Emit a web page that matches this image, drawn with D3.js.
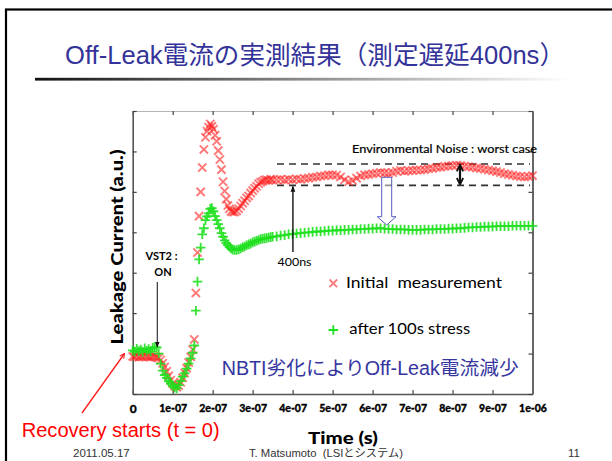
<!DOCTYPE html>
<html><head><meta charset="utf-8">
<script src="https://cdn.jsdelivr.net/npm/d3@7"></script>
<style>html,body{margin:0;padding:0;background:#fff;} svg{display:block}</style>
</head><body>
<svg id="c" width="612" height="461"></svg>
<script>
// ---- data (time in ns, leakage current in arbitrary units) ----
const timeNs = [
  0,5,10,15,20,25,30,35,40,45,50,55,60,65,70,75,80,85,90,95,100,105,110,115,120,125,130,135,140,145,150,
  154,158,162,166,170,174,178,182,186,190,194,198,202,206,210,214,218,222,226,230,234,238,242,246,250,
  255,260,265,270,275,280,285,290,295,300,305,310,315,320,325,330,335,340,345,350,
  360,370,380,390,400,410,420,430,440,450,460,470,480,490,500,510,520,530,540,550,
  560,570,580,590,600,610,620,630,640,650,660,670,680,690,700,710,720,730,740,750,
  760,770,780,790,800,810,820,830,840,850,860,870,880,890,900,910,920,930,940,950,
  960,970,980,990,1000
];
const initialMeasurement = [
  0.93,0.92,0.94,0.91,0.93,0.92,0.94,0.93,0.92,0.91,0.93,0.92,0.91,0.89,0.84,0.76,0.67,0.56,0.45,0.34,0.26,0.20,0.17,0.21,0.29,0.40,0.52,0.64,0.78,0.92,1.10,
  1.35,2.50,3.50,4.40,5.00,5.60,6.05,6.35,6.50,6.60,6.68,6.62,6.55,6.40,6.25,6.02,5.80,5.55,5.25,5.02,4.82,4.66,4.58,4.52,4.50,
  4.50,4.53,4.58,4.65,4.72,4.78,4.85,4.90,4.97,5.03,5.09,5.14,5.20,5.24,5.26,5.29,5.30,5.28,5.31,5.29,
  5.30,5.31,5.29,5.31,5.30,5.32,5.31,5.33,5.34,5.36,
  5.37,5.39,5.40,5.42,5.42,5.41,5.37,5.30,5.25,5.28,
  5.34,5.39,5.42,5.43,5.45,5.46,5.48,5.47,5.46,5.48,
  5.51,5.53,5.51,5.52,5.53,5.54,5.54,5.55,5.57,5.58,
  5.60,5.61,5.63,5.64,5.65,5.66,5.65,5.64,5.62,5.61,
  5.59,5.58,5.56,5.54,5.52,5.50,5.48,5.45,5.43,5.41,
  5.39,5.38,5.37,5.38,5.40
];
const after100sStress = [
  1.08,1.05,1.12,1.06,1.10,1.04,1.13,1.07,1.11,1.05,1.14,1.16,1.15,1.00,0.75,0.58,0.47,0.40,0.32,0.26,0.20,0.16,0.14,0.22,0.32,0.43,0.51,0.63,0.75,0.88,1.02,
  1.20,2.06,2.78,3.33,3.62,3.95,4.10,4.30,4.39,4.47,4.58,4.60,4.52,4.40,4.30,4.20,4.10,3.98,3.89,3.80,3.73,3.68,3.64,3.60,3.57,
  3.56,3.56,3.58,3.60,3.63,3.65,3.68,3.70,3.72,3.75,3.77,3.79,3.81,3.83,3.84,3.85,3.86,3.87,3.88,3.89,
  3.90,3.92,3.93,3.95,3.96,3.97,3.98,3.99,4.00,4.01,
  4.02,4.02,4.03,4.04,4.04,4.05,4.05,4.06,4.06,4.07,
  4.07,4.08,4.08,4.09,4.09,4.10,4.10,4.09,4.08,4.08,
  4.07,4.07,4.07,4.06,4.06,4.06,4.06,4.07,4.07,4.07,
  4.08,4.08,4.08,4.09,4.09,4.10,4.10,4.11,4.12,4.12,
  4.13,4.13,4.14,4.14,4.14,4.15,4.15,4.15,4.15,4.16,
  4.16,4.16,4.16,4.16,4.16
];
const xTickValues = [0,1e-7,2e-7,3e-7,4e-7,5e-7,6e-7,7e-7,8e-7,9e-7,1e-6];
const xTickLabels = ["0","1e-07","2e-07","3e-07","4e-07","5e-07","6e-07","7e-07","8e-07","9e-07","1e-06"];
const yTickValues = [0,1,2,3,4,5,6,7];
const seriesNames = ["Initial  measurement","after 100s stress"];
const noiseBand = [5.16, 5.69];   // environmental noise band (a.u.)
const delayMark = 4e-7;           // 400 ns measurement delay

// ---- drawing ----
const svg = d3.select("#c");
const x = d3.scaleLinear().domain([0, 1e-6]).range([132.7, 532.5]);
const y = d3.scaleLinear().domain([0, 7]).range([394, 111]);
const CJK = "'Liberation Sans', Arial, 'Noto Sans CJK JP', sans-serif";
const CAL = "Lato, 'Open Sans', sans-serif";

const defs = svg.append("defs");
const grad = defs.append("linearGradient").attr("id", "ul").attr("x1", "0").attr("x2", "1");
grad.append("stop").attr("offset", "0").attr("stop-color", "#111");
grad.append("stop").attr("offset", "0.5").attr("stop-color", "#8a8a8a");
grad.append("stop").attr("offset", "1").attr("stop-color", "#fff");
function marker(id, color, open) {
  const m = defs.append("marker").attr("id", id).attr("viewBox", "0 0 10 10")
    .attr("refX", 9).attr("refY", 5).attr("markerWidth", 6).attr("markerHeight", 6)
    .attr("markerUnits", "userSpaceOnUse").attr("orient", "auto-start-reverse");
  if (open) m.append("path").attr("d", "M1,1 L9,5 L1,9").attr("fill", "none").attr("stroke", color).attr("stroke-width", 1.6);
  else m.append("path").attr("d", "M0,1 L10,5 L0,9 z").attr("fill", color);
}
marker("aBlack", "#111", false);
marker("aRed", "#ff1a1a", true);
const mBig = defs.append("marker").attr("id", "aBig").attr("viewBox", "0 0 10 10")
  .attr("refX", 9).attr("refY", 5).attr("markerWidth", 8).attr("markerHeight", 8)
  .attr("markerUnits", "userSpaceOnUse").attr("orient", "auto-start-reverse");
mBig.append("path").attr("d", "M1,1 L9,5 L1,9").attr("fill", "none").attr("stroke", "#111").attr("stroke-width", 2.2);

// slide frame
svg.append("rect").attr("x", 6).attr("y", 9.5).attr("width", 700).attr("height", 600)
  .attr("fill", "none").attr("stroke", "#000").attr("stroke-width", 2.2);

// title
svg.append("text").attr("x", 65).attr("y", 63.5)
  .attr("font-family", CJK).attr("font-size", 25.5).attr("fill", "#333399")
  .attr("textLength", 500).attr("lengthAdjust", "spacingAndGlyphs")
  .text("Off-Leak電流の実測結果（測定遅延400ns）");
svg.append("rect").attr("x", 35).attr("y", 77.8).attr("width", 535).attr("height", 2.8).attr("fill", "url(#ul)");

// axes
const g = svg.append("g");
const axB = g.append("g").attr("transform", `translate(0,${y(0)})`)
  .call(d3.axisBottom(x).tickValues(xTickValues).tickFormat((d, i) => xTickLabels[i]).tickSize(-4).tickSizeOuter(0));
const axT = g.append("g").attr("transform", `translate(0,${y(7)})`)
  .call(d3.axisTop(x).tickValues(xTickValues).tickFormat("").tickSize(-4).tickSizeOuter(0));
const axL = g.append("g").attr("transform", `translate(${x(0)},0)`)
  .call(d3.axisLeft(y).tickValues(yTickValues).tickFormat("").tickSize(-4).tickSizeOuter(0));
const axR = g.append("g").attr("transform", `translate(${x(1e-6)},0)`)
  .call(d3.axisRight(y).tickValues(yTickValues).tickFormat("").tickSize(-4).tickSizeOuter(0));
[axB, axL].forEach(a => { a.select(".domain").attr("stroke", "#555").attr("stroke-width", 1.6); a.selectAll(".tick line").attr("stroke", "#444").attr("stroke-width", 1.2); });
axT.select(".domain").attr("stroke", "#b5b5b5").attr("stroke-width", 1.2);
axT.selectAll(".tick line").attr("stroke", "#444").attr("stroke-width", 1.2);
axR.select(".domain").attr("stroke", "#666").attr("stroke-width", 2);
axR.selectAll(".tick line").attr("stroke", "#444").attr("stroke-width", 1.2);
axB.selectAll(".tick text").attr("y", 17.5)
  .attr("font-family", CAL).attr("font-weight", 900).attr("font-size", (d, i) => i === 0 ? 12 : 10.5).attr("fill", "#000")
  .attr("stroke", "#000").attr("stroke-width", 0.3)
  .attr("dy", (d, i) => i === 0 ? "1.5" : "0");

// axis titles
svg.append("text").attr("transform", "translate(123,247) rotate(-90)").attr("text-anchor", "middle")
  .attr("font-family", CAL).attr("font-weight", 900).attr("font-size", 17)
  .attr("textLength", 195).attr("lengthAdjust", "spacingAndGlyphs").text("Leakage Current (a.u.)");
svg.append("text").attr("x", 343).attr("y", 443.5).attr("text-anchor", "middle")
  .attr("font-family", CAL).attr("font-weight", 900).attr("font-size", 16.5)
  .attr("textLength", 70).attr("lengthAdjust", "spacingAndGlyphs").text("Time (s)");

// noise band dashed lines
svg.append("g").selectAll("line").data(noiseBand).join("line")
  .attr("x1", 277).attr("x2", 530).attr("y1", d => y(d)).attr("y2", d => y(d))
  .attr("stroke", "#333").attr("stroke-width", 1.6).attr("stroke-dasharray", "7,5");

// series
const pts = timeNs.map((t, i) => ({ t: t * 1e-9, a: initialMeasurement[i], b: after100sStress[i] }));
const sR = 4.1, sG = 4.8;
svg.append("g").selectAll("path").data(pts).join("path")
  .attr("d", d => { const cx = x(d.t), cy = y(d.a);
    return `M${cx - sR},${cy - sR}L${cx + sR},${cy + sR}M${cx - sR},${cy + sR}L${cx + sR},${cy - sR}`; })
  .attr("fill", "none").attr("stroke", "#ff2020").attr("stroke-opacity", 0.6).attr("stroke-width", 1.9);
svg.append("g").selectAll("path").data(pts).join("path")
  .attr("d", d => { const cx = x(d.t), cy = y(d.b);
    return `M${cx - sG},${cy}L${cx + sG},${cy}M${cx},${cy - sG}L${cx},${cy + sG}`; })
  .attr("fill", "none").attr("stroke", "#1ee01e").attr("stroke-opacity", 0.9).attr("stroke-width", 1.8);

// annotations
svg.append("text").attr("x", 537).attr("y", 153.3).attr("text-anchor", "end")
  .attr("font-family", CAL).attr("font-size", 11).attr("fill", "#000").attr("stroke", "#000").attr("stroke-width", 0.2)
  .attr("textLength", 185).attr("lengthAdjust", "spacingAndGlyphs").text("Environmental Noise : worst case");
svg.append("line").attr("x1", 460).attr("x2", 460).attr("y1", y(noiseBand[0]) - 1).attr("y2", y(noiseBand[1]) + 1)
  .attr("stroke", "#111").attr("stroke-width", 2.2).attr("marker-start", "url(#aBig)").attr("marker-end", "url(#aBig)");
// hollow down arrow
svg.append("path").attr("d", "M381.7,177.3 L391.7,177.3 L391.7,216.7 L396,216.7 L386.7,225 L377.3,216.7 L381.7,216.7 Z")
  .attr("fill", "rgba(255,255,255,0.45)").attr("stroke", "#5a5ac0").attr("stroke-width", 1);

// 400ns arrow
svg.append("line").attr("x1", x(delayMark) + 0.3).attr("x2", x(delayMark) + 0.3).attr("y1", 252).attr("y2", y(noiseBand[0]) + 1)
  .attr("stroke", "#111").attr("stroke-width", 1.4).attr("marker-end", "url(#aBlack)");
svg.append("text").attr("x", 294.5).attr("y", 266).attr("text-anchor", "middle")
  .attr("font-family", CAL).attr("font-size", 11.5).attr("fill", "#000")
  .attr("textLength", 34).attr("lengthAdjust", "spacingAndGlyphs").text("400ns");

// VST2 : ON
svg.append("text").attr("x", 161.5).attr("y", 260).attr("text-anchor", "middle")
  .attr("font-family", CAL).attr("font-weight", 700).attr("font-size", 11).attr("fill", "#000").text("VST2 :");
svg.append("text").attr("x", 163).attr("y", 276).attr("text-anchor", "middle")
  .attr("font-family", CAL).attr("font-weight", 700).attr("font-size", 11).attr("fill", "#000").text("ON");
svg.append("line").attr("x1", 157.3).attr("x2", 157.3).attr("y1", 282).attr("y2", 347)
  .attr("stroke", "#222").attr("stroke-width", 1.1).attr("marker-end", "url(#aBlack)");

// legend
svg.append("path").attr("d", "M329.5,279.5L337.1,287.1M329.5,287.1L337.1,279.5")
  .attr("fill", "none").attr("stroke", "#ff2020").attr("stroke-opacity", 0.6).attr("stroke-width", 1.8);
svg.append("text").attr("x", 346).attr("y", 288.3).attr("font-family", CAL).attr("font-size", 16).attr("fill", "#000")
  .attr("textLength", 156).attr("lengthAdjust", "spacingAndGlyphs").style("white-space", "pre").text(seriesNames[0]);
svg.append("path").attr("d", "M328.5,330L338.1,330M333.3,325.2L333.3,334.8")
  .attr("fill", "none").attr("stroke", "#1ee01e").attr("stroke-width", 1.8);
svg.append("text").attr("x", 349.3).attr("y", 334.3).attr("font-family", CAL).attr("font-size", 16).attr("fill", "#000")
  .attr("textLength", 121).attr("lengthAdjust", "spacingAndGlyphs").text(seriesNames[1]);

// NBTI note
svg.append("text").attr("x", 221.7).attr("y", 375).attr("font-family", CJK).attr("font-size", 19.5).attr("fill", "#3535a0")
  .attr("textLength", 297).attr("lengthAdjust", "spacingAndGlyphs").text("NBTI劣化によりOff-Leak電流減少");

// recovery starts
svg.append("line").attr("x1", 82).attr("y1", 413).attr("x2", 124.5).attr("y2", 353.5)
  .attr("stroke", "#ff1a1a").attr("stroke-width", 1.3).attr("marker-end", "url(#aRed)");
svg.append("text").attr("x", 21.7).attr("y", 437).attr("font-family", CJK).attr("font-size", 20).attr("fill", "#ff0000")
  .attr("textLength", 198).attr("lengthAdjust", "spacingAndGlyphs").text("Recovery starts (t = 0)");

// footer
svg.append("text").attr("x", 73).attr("y", 457).attr("font-family", CJK).attr("font-size", 11.5).attr("fill", "#333").text("2011.05.17");
svg.append("text").attr("x", 249).attr("y", 457).attr("font-family", CJK).attr("font-size", 11.5).attr("fill", "#333")
  .attr("textLength", 154).attr("lengthAdjust", "spacingAndGlyphs").style("white-space", "pre").text("T. Matsumoto  (LSIとシステム)");
svg.append("text").attr("x", 568).attr("y", 457).attr("font-family", CJK).attr("font-size", 11.5).attr("fill", "#333").text("11");
</script>
</body></html>
